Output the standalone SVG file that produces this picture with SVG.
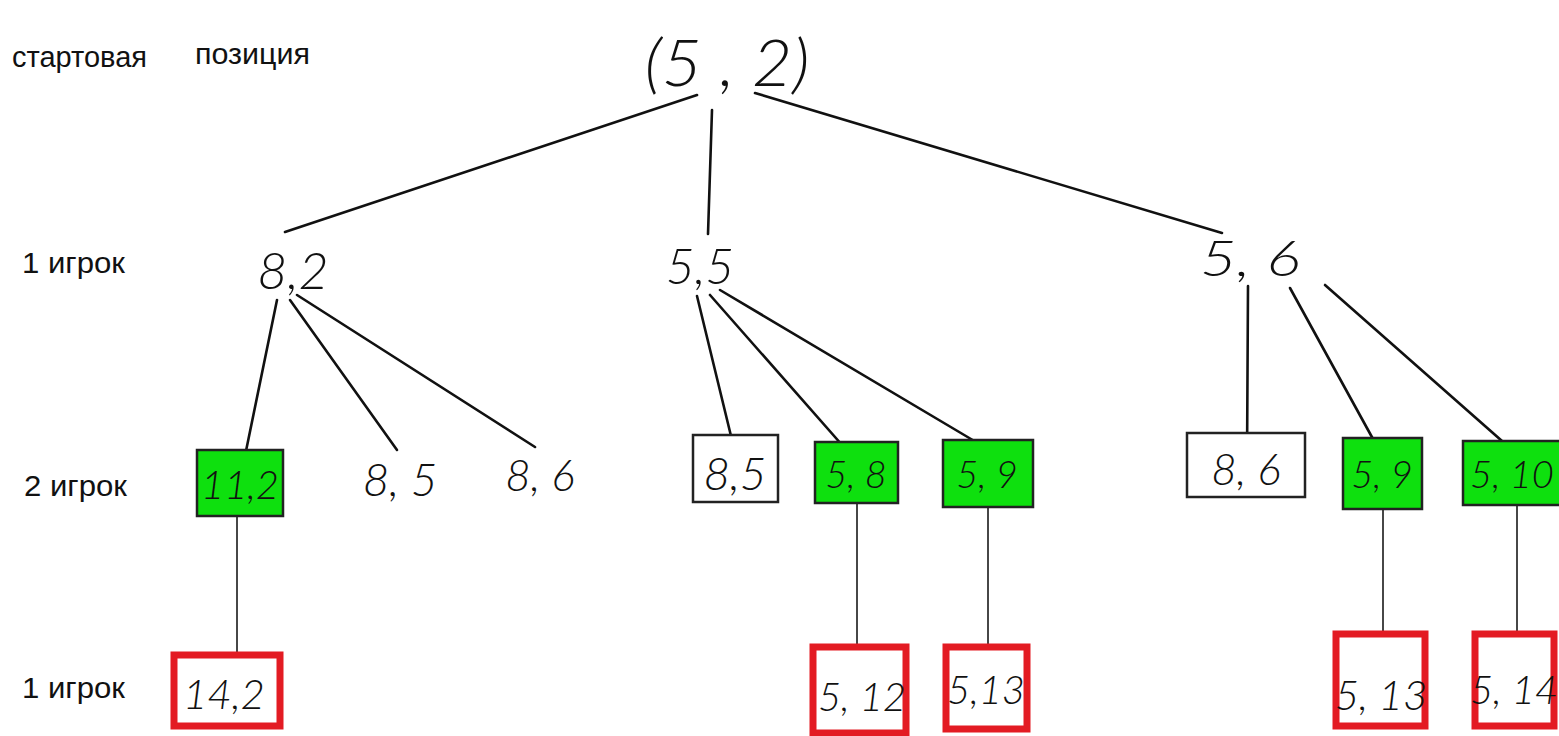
<svg xmlns="http://www.w3.org/2000/svg" width="1559" height="736" viewBox="0 0 1559 736">
  <style>
    .lbl { font-family: "Liberation Sans", Arial, sans-serif; font-size: 30px; fill: #111; }
    .hw { font-family: Lato, "Liberation Sans", sans-serif; font-style: italic; font-weight: 300; fill: #111; text-anchor: middle; }
    .edge { stroke: #111; stroke-width: 2.6; fill: none; stroke-linecap: round; }
    .stem { stroke: #333; stroke-width: 1.8; fill: none; }
    .win { fill: #0ee00e; stroke: #222; stroke-width: 2.5; }
    .plain { fill: #fff; stroke: #222; stroke-width: 2.5; }
    .end { fill: #fff; stroke: #e31b23; stroke-width: 7; }
  </style>
  <rect width="1559" height="736" fill="#fff"/>

  <!-- row labels -->
  <g id="labels">
    <text class="lbl" x="12" y="67" textLength="135" lengthAdjust="spacingAndGlyphs">стартовая</text>
    <text class="lbl" x="195" y="64" textLength="115" lengthAdjust="spacingAndGlyphs">позиция</text>
    <text class="lbl" x="22" y="273" textLength="103" lengthAdjust="spacingAndGlyphs">1 игрок</text>
    <text class="lbl" x="24" y="496" textLength="103" lengthAdjust="spacingAndGlyphs">2 игрок</text>
    <text class="lbl" x="22" y="698" textLength="103" lengthAdjust="spacingAndGlyphs">1 игрок</text>
  </g>

  <!-- connectors -->
  <g id="connectors">
    <line class="edge" x1="697" y1="95" x2="285" y2="232"/>
    <line class="edge" x1="712" y1="110" x2="708" y2="234"/>
    <line class="edge" x1="755" y1="93" x2="1222" y2="233"/>

    <line class="edge" x1="277" y1="300" x2="246" y2="451"/>
    <line class="edge" x1="290" y1="300" x2="397" y2="450"/>
    <line class="edge" x1="297" y1="295" x2="535" y2="447"/>

    <line class="edge" x1="697" y1="296" x2="731" y2="436"/>
    <line class="edge" x1="710" y1="295" x2="857" y2="462"/>
    <line class="edge" x1="720" y1="290" x2="976" y2="442"/>

    <line class="edge" x1="1248" y1="286" x2="1247" y2="463"/>
    <line class="edge" x1="1290" y1="288" x2="1373" y2="439"/>
    <line class="edge" x1="1325" y1="285" x2="1502" y2="441"/>

    <line class="stem" x1="237" y1="516" x2="237" y2="663"/>
    <line class="stem" x1="857" y1="503" x2="857" y2="645"/>
    <line class="stem" x1="988" y1="507" x2="988" y2="652"/>
    <line class="stem" x1="1383" y1="509" x2="1383" y2="668"/>
    <line class="stem" x1="1517" y1="505" x2="1517" y2="655"/>
  </g>

  <!-- root -->
  <g id="root">
    <text class="hw" x="727" y="86" font-size="66" textLength="165" lengthAdjust="spacingAndGlyphs">(5 , 2)</text>
  </g>

  <!-- first move of player 1 -->
  <g id="n-8-2"><text class="hw" x="293" y="289" font-size="52">8,2</text></g>
  <g id="n-5-5"><text class="hw" x="700" y="284" font-size="50">5,5</text></g>
  <g id="n-5-6"><text class="hw" x="1250" y="276" font-size="50" textLength="100" lengthAdjust="spacingAndGlyphs">5,  6</text></g>

  <!-- replies of player 2 -->
  <g id="n-11-2">
    <rect class="win" x="197" y="450" width="86" height="66"/>
    <text class="hw" x="240" y="499" font-size="40">11,2</text>
  </g>
  <g id="n-8-5a"><text class="hw" x="400" y="496" font-size="46">8, 5</text></g>
  <g id="n-8-6a"><text class="hw" x="540" y="491" font-size="44">8, 6</text></g>

  <g id="n-8-5b">
    <rect class="plain" x="693" y="435" width="85" height="67"/>
    <text class="hw" x="735" y="490" font-size="46">8,5</text>
  </g>
  <g id="n-5-8">
    <rect class="win" x="815" y="442" width="83" height="61"/>
    <text class="hw" x="856" y="488" font-size="38">5, 8</text>
  </g>
  <g id="n-5-9a">
    <rect class="win" x="943" y="440" width="90" height="67"/>
    <text class="hw" x="987" y="488" font-size="38">5, 9</text>
  </g>

  <g id="n-8-6b">
    <rect class="plain" x="1187" y="433" width="118" height="64"/>
    <text class="hw" x="1246" y="485" font-size="44">8, 6</text>
  </g>
  <g id="n-5-9b">
    <rect class="win" x="1343" y="438" width="79" height="71"/>
    <text class="hw" x="1382" y="488" font-size="38">5, 9</text>
  </g>
  <g id="n-5-10">
    <rect class="win" x="1463" y="441" width="100" height="64"/>
    <text class="hw" x="1512" y="488" font-size="38">5, 10</text>
  </g>

  <!-- final moves of player 1 -->
  <g id="n-14-2">
    <rect class="end" x="174" y="655" width="106" height="71"/>
    <text class="hw" x="224" y="709" font-size="42">14,2</text>
  </g>
  <g id="n-5-12">
    <rect class="end" x="813" y="647" width="93" height="86"/>
    <text class="hw" x="862" y="711" font-size="40">5, 12</text>
  </g>
  <g id="n-5-13a">
    <rect class="end" x="946" y="647" width="81" height="82"/>
    <text class="hw" x="986" y="704" font-size="40">5,13</text>
  </g>
  <g id="n-5-13b">
    <rect class="end" x="1336" y="634" width="89" height="92"/>
    <text class="hw" x="1381" y="710" font-size="42">5, 13</text>
  </g>
  <g id="n-5-14">
    <rect class="end" x="1475" y="634" width="79" height="92"/>
    <text class="hw" x="1514" y="704" font-size="40">5, 14</text>
  </g>
</svg>
